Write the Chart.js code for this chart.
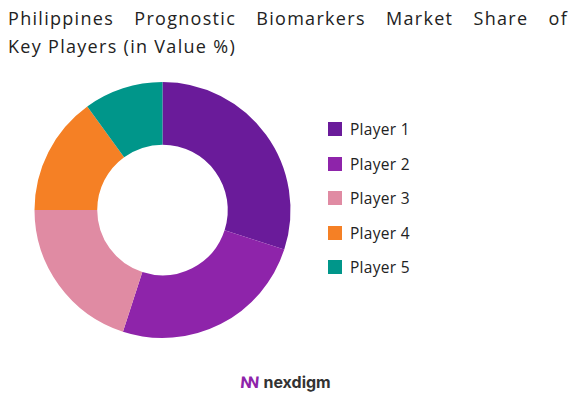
<!DOCTYPE html>
<html><head><meta charset="utf-8">
<script src="https://cdn.jsdelivr.net/npm/chart.js@4"></script>
<style>
body{margin:0;width:575px;height:408px;background:#fff;font-family:"Open Sans",sans-serif;position:relative;overflow:hidden}
#title{position:absolute;left:8px;top:4px;width:560px;font-size:18px;line-height:28px;color:#222;letter-spacing:1.3px}
#l1{display:block;text-align:justify;text-align-last:justify}
#wrap{position:absolute;left:0;top:78px;width:325px;height:264px}
#legend{position:absolute;left:328px;top:112px;font-size:15.5px;color:#222;letter-spacing:0.3px}
.it{display:flex;align-items:center;height:34.5px}
.sw{width:14px;height:14px;margin-right:8px}
#logo{position:absolute;left:240px;top:372px;font-size:16px;font-weight:bold;color:#333;font-family:"Inter",sans-serif}
#logo span{color:#8e24aa}
</style></head><body>
<div id="title"><span id="l1">Philippines Prognostic Biomarkers Market Share of</span>Key Players (in Value %)</div>
<div id="wrap"><canvas id="c"></canvas></div>
<div id="legend"></div>
<div id="logo"><span>ꟿ</span> nexdigm</div>
<script>
const categories=["Player 1","Player 2","Player 3","Player 4","Player 5"];
const values=[30,25,20,15,10];
const colors=["#6a1b9a","#8e24aa","#e08ba3","#f58025","#00968a"];
const lg=document.getElementById('legend');
categories.forEach((c,i)=>{lg.innerHTML+=`<div class="it"><div class="sw" style="background:${colors[i]}"></div>${c}</div>`;});
new Chart(document.getElementById('c'),{type:'doughnut',
data:{labels:categories,datasets:[{data:values,backgroundColor:colors,borderWidth:0}]},
options:{responsive:true,maintainAspectRatio:false,animation:false,cutout:'51%',
layout:{padding:{top:4,bottom:4,left:0,right:0}},
plugins:{legend:{display:false},tooltip:{enabled:false}}}});
</script></body></html>
